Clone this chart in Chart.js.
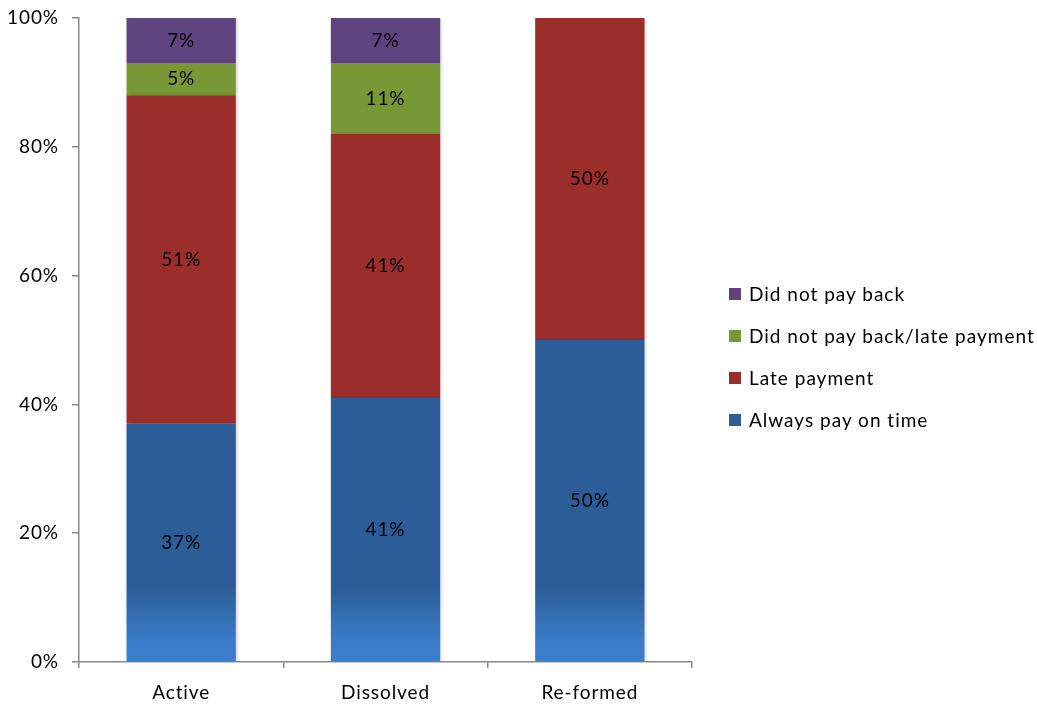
<!DOCTYPE html>
<html>
<head>
<meta charset="utf-8">
<script src="https://cdn.jsdelivr.net/npm/chart.js@4.4.1/dist/chart.umd.min.js"></script>
<style>
  html, body { margin: 0; padding: 0; background: #fff; }
  #wrap { position: relative; width: 1037px; height: 706px; }
  #legend { position: absolute; left: 729px; top: 282px; font: 19px Lato, "Open Sans", sans-serif; letter-spacing: 1px; color: #000; }
  .lg-row { height: 42px; display: flex; align-items: flex-start; }
  .lg-box { width: 12px; height: 12px; margin: 6px 8px 0 0; }
</style>
</head>
<body>
<div id="wrap">
  <canvas id="chart" width="1037" height="706"></canvas>
  <div id="legend"></div>
</div>
<script>
/* ── DATA ── */
const groups      = ['Active', 'Dissolved', 'Re-formed'];
const onTime      = [37, 41, 50];
const latePay     = [51, 41, 50];
const noPayLate   = [5, 11, 0];
const noPayBack   = [7, 7, 0];
const yTicks      = [0, 20, 40, 60, 80, 100];

const FONT = 'Lato, "Open Sans", sans-serif';

// blue fades lighter near the base of each bar
function blueFill(ctx) {
  const area = ctx.chart.chartArea;
  if (!area) return '#2C5D98';
  const g = ctx.chart.ctx.createLinearGradient(0, area.bottom, 0, area.bottom - 75);
  g.addColorStop(0, '#3B80CD');
  g.addColorStop(0.3, '#3A7BC7');
  g.addColorStop(1, '#2C5D98');
  return g;
}

const series = [
  { label: 'Always pay on time',             data: onTime,    color: '#2C5D98', fill: blueFill },
  { label: 'Late payment',                   data: latePay,   color: '#9B2D2B' },
  { label: 'Did not pay back/late payment',  data: noPayLate, color: '#779834' },
  { label: 'Did not pay back',               data: noPayBack, color: '#5F437F' }
];

// slightly spaced lettering for all canvas text
const spacing = {
  id: 'spacing',
  beforeDraw(chart) { chart.ctx.letterSpacing = '0.9px'; }
};

// value labels in the middle of each segment
const segLabels = {
  id: 'segLabels',
  afterDatasetsDraw(chart) {
    const { ctx } = chart;
    ctx.save();
    ctx.font = '19px ' + FONT;
    ctx.fillStyle = '#000';
    ctx.textAlign = 'center';
    ctx.textBaseline = 'middle';
    chart.data.datasets.forEach((ds, di) => {
      chart.getDatasetMeta(di).data.forEach((bar, i) => {
        const v = ds.data[i];
        if (!v) return;
        ctx.fillText(v + '%', bar.x, (bar.y + bar.base) / 2);
      });
    });
    ctx.restore();
  }
};

// faint drop shadow to the right of the bars
const barShadow = {
  id: 'barShadow',
  beforeDatasetsDraw(chart) {
    const { ctx } = chart;
    ctx.save();
    ctx.shadowColor = 'rgba(0,0,0,0.18)';
    ctx.shadowBlur = 3;
    ctx.shadowOffsetX = 2;
  },
  afterDatasetsDraw(chart) {
    chart.ctx.restore();
  }
};

new Chart(document.getElementById('chart').getContext('2d'), {
  type: 'bar',
  plugins: [spacing, barShadow, segLabels],
  data: {
    labels: groups,
    datasets: series.map(s => ({
      label: s.label,
      data: s.data,
      backgroundColor: s.fill || s.color,
      borderWidth: 0,
      categoryPercentage: 1,
      barPercentage: 0.535
    }))
  },
  options: {
    responsive: false,
    animation: false,
    layout: { padding: { top: 18, right: 345, left: 0, bottom: 0 } },
    plugins: { legend: { display: false }, tooltip: { enabled: false } },
    scales: {
      x: {
        stacked: true,
        offset: true,
        afterFit: s => { s.height = 44; s.paddingLeft = 0; s.paddingRight = 0; },
        grid: { offset: true, drawOnChartArea: false, drawTicks: true, tickLength: 6, color: '#888', lineWidth: 1.5 },
        border: { color: '#888', width: 1.5 },
        ticks: { color: '#000', font: { size: 19, family: FONT }, padding: 13 }
      },
      y: {
        stacked: true,
        min: 0,
        max: 100,
        afterFit: s => { s.width = 79; s.paddingTop = 0; s.paddingBottom = 0; },
        afterBuildTicks: s => { s.ticks = yTicks.map(v => ({ value: v })); },
        grid: { drawOnChartArea: false, drawTicks: true, tickLength: 7, color: '#888', lineWidth: 1.5 },
        border: { color: '#888', width: 1.5 },
        ticks: { color: '#000', font: { size: 19, family: FONT }, padding: 13, callback: v => v + '%' }
      }
    }
  }
});

/* ── LEGEND ── */
document.getElementById('legend').innerHTML = series.slice().reverse().map(s =>
  `<div class="lg-row"><div class="lg-box" style="background:${s.color}"></div><span>${s.label}</span></div>`
).join('');
</script>
</body>
</html>
